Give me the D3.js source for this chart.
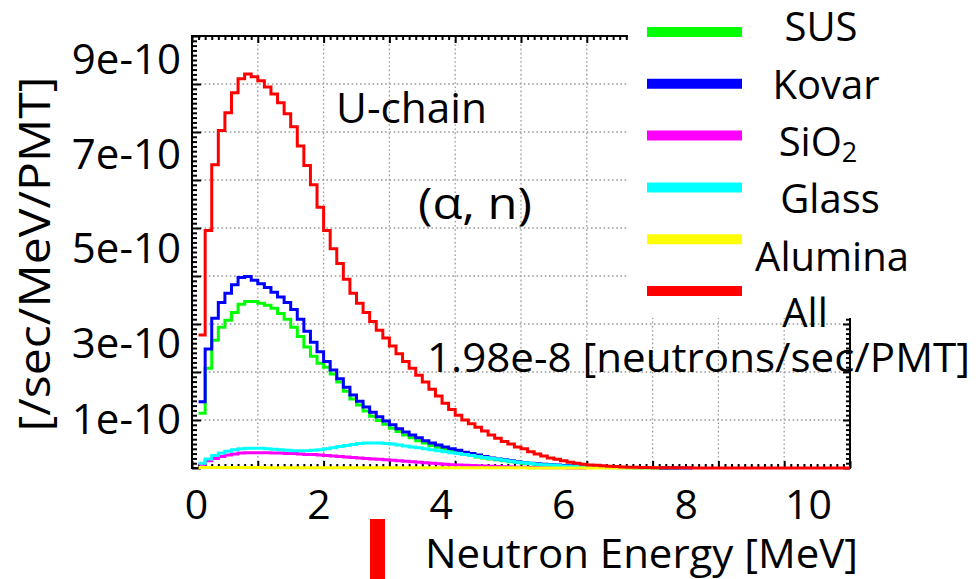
<!DOCTYPE html>
<html>
<head>
<meta charset="utf-8">
<script src="https://cdn.jsdelivr.net/npm/d3@7/dist/d3.min.js"></script>
<style>
  html, body { margin: 0; padding: 0; background: #fff; }
  svg { display: block; font-family: 'Open Sans', sans-serif; }
</style>
</head>
<body>
<svg id="chart" width="976" height="579"></svg>
<script>
// ---- Data (values in units of 1e-10 /sec/MeV/PMT, bins of 0.1 MeV starting at 0.1 MeV) ----
const binStart = 0.1;
const binWidth = 0.1;

const seriesNames = ["SUS", "Kovar", "SiO2", "Glass", "Alumina", "All"];
const seriesColors = ["#00ff00", "#0000ff", "#ff00ff", "#00ffff", "#ffff00", "#ff0000"];

const susValues = [
  1.14, 2.08, 2.66, 2.93, 3.08, 3.24, 3.41, 3.47, 3.47, 3.43,
  3.39, 3.33, 3.22, 3.10, 2.93, 2.74, 2.52, 2.33, 2.18, 2.10,
  1.96, 1.79, 1.60, 1.44, 1.31, 1.19, 1.08, 0.99, 0.91, 0.83,
  0.76, 0.69, 0.63, 0.57, 0.52, 0.47, 0.43, 0.39, 0.35, 0.32,
  0.29, 0.26, 0.23, 0.21, 0.19, 0.17, 0.15, 0.13, 0.115, 0.10,
  0.09, 0.08, 0.07, 0.06, 0.05, 0.045, 0.04, 0.035, 0.03, 0.025,
  0.02, 0.017, 0.014, 0.011, 0.009, 0.007, 0.005, 0.004, 0.003, 0.002,
  0.001, 0.001, 0
];
const kovarValues = [
  1.38, 2.48, 3.12, 3.45, 3.64, 3.82, 3.97, 3.99, 3.91, 3.84,
  3.76, 3.66, 3.56, 3.45, 3.30, 3.10, 2.85, 2.62, 2.42, 2.22,
  2.04, 1.86, 1.68, 1.52, 1.39, 1.27, 1.16, 1.07, 0.98, 0.90,
  0.82, 0.75, 0.69, 0.63, 0.57, 0.52, 0.48, 0.44, 0.40, 0.37,
  0.33, 0.30, 0.27, 0.24, 0.21, 0.19, 0.17, 0.15, 0.13, 0.115,
  0.10, 0.09, 0.08, 0.07, 0.06, 0.05, 0.045, 0.04, 0.035, 0.03,
  0.025, 0.02, 0.017, 0.014, 0.011, 0.009, 0.007, 0.005, 0.004, 0.003,
  0.002, 0.002, 0.001, 0.001, 0
];
const sio2Values = [
  0.08, 0.15, 0.20, 0.24, 0.27, 0.29, 0.31, 0.32, 0.32, 0.32,
  0.32, 0.31, 0.31, 0.30, 0.30, 0.29, 0.28, 0.28, 0.27, 0.26,
  0.25, 0.24, 0.23, 0.22, 0.21, 0.20, 0.19, 0.18, 0.17, 0.16,
  0.15, 0.14, 0.13, 0.12, 0.11, 0.10, 0.09, 0.08, 0.07, 0.06,
  0.055, 0.05, 0.045, 0.04, 0.035, 0.03, 0.025, 0.02, 0.017, 0.014,
  0.011, 0.009, 0.007, 0.005, 0.004, 0.003, 0.002, 0.001, 0
];
const glassValues = [
  0.10, 0.19, 0.26, 0.31, 0.35, 0.38, 0.40, 0.41, 0.41, 0.41,
  0.40, 0.39, 0.38, 0.37, 0.36, 0.36, 0.36, 0.37, 0.38, 0.40,
  0.42, 0.45, 0.47, 0.49, 0.51, 0.52, 0.52, 0.52, 0.51, 0.50,
  0.48, 0.46, 0.44, 0.42, 0.40, 0.38, 0.36, 0.34, 0.32, 0.30,
  0.28, 0.26, 0.24, 0.22, 0.20, 0.18, 0.16, 0.14, 0.12, 0.11,
  0.095, 0.08, 0.07, 0.06, 0.05, 0.04, 0.035, 0.03, 0.025, 0.02,
  0.015, 0.012, 0.009, 0.007, 0.005, 0.004, 0.003, 0.002, 0.001, 0
];
const aluminaValues = [
  0.008, 0.008, 0.008, 0.008, 0.008, 0.008, 0.008, 0.008, 0.008, 0.008,
  0.006, 0.006, 0.006, 0.006, 0.006, 0.006, 0.006, 0.006, 0.006, 0.006,
  0.006, 0.006, 0.006, 0.006, 0.006, 0.006, 0.006, 0.006, 0.006, 0.006,
  0.004, 0.004, 0.004, 0.004, 0.004, 0.004, 0.004, 0.004, 0.004, 0.004,
  0.004, 0.004, 0.004, 0.004, 0.004, 0.004, 0.004, 0.004, 0.004, 0.004,
  0.002, 0.002, 0.002, 0.002, 0.002, 0.002, 0.002, 0.002, 0.002, 0.002,
  0.001, 0.001, 0.001, 0.001, 0.001, 0.001, 0.001, 0.001, 0.001, 0
];
const allValues = [
  2.77, 4.95, 6.32, 7.03, 7.40, 7.82, 8.11, 8.21, 8.15, 8.07,
  7.94, 7.79, 7.61, 7.38, 7.11, 6.71, 6.30, 5.90, 5.43, 4.95,
  4.57, 4.26, 3.93, 3.64, 3.43, 3.24, 3.05, 2.87, 2.71, 2.54,
  2.38, 2.22, 2.08, 1.93, 1.79, 1.64, 1.50, 1.35, 1.22, 1.10,
  1.00, 0.92, 0.85, 0.77, 0.69, 0.62, 0.55, 0.50, 0.44, 0.40,
  0.34, 0.29, 0.25, 0.21, 0.18, 0.15, 0.12, 0.10, 0.08, 0.065,
  0.055, 0.045, 0.036, 0.029, 0.023, 0.018, 0.014, 0.011, 0.009, 0.007,
  0.006, 0.005, 0.004, 0.003, 0.003, 0.002, 0.002, 0.001, 0.001, 0.001,
  0, 0, 0, 0, 0, 0, 0, 0, 0, 0,
  0, 0, 0, 0, 0, 0, 0, 0, 0
];
const seriesValues = [susValues, kovarValues, sio2Values, glassValues, aluminaValues, allValues];

const xTickLabels = [0, 2, 4, 6, 8, 10];
const yTickLabels = [1, 3, 5, 7, 9];   // x 1e-10

// ---- Layout ----
const svg = d3.select("#chart");
const plot = { left: 192, right: 850, top: 36, bottom: 468 };

const x = d3.scaleLinear().domain([0, 10]).range([plot.left, plot.right]);
const y = d3.scaleLinear().domain([0, 9]).range([plot.bottom, plot.top]);

// label placement scales (labels in the picture are overlaid slightly off the frame grid)
const xLabelScale = d3.scaleLinear().domain([0, 10]).range([196, 808]);
const yLabelScale = d3.scaleLinear().domain([1, 3, 5, 7, 9]).range([418, 342, 247, 153, 58]);

svg.append("rect").attr("width", 976).attr("height", 579).attr("fill", "#fff");

// grid
const grid = svg.append("g").attr("stroke", "#9a9a9a").attr("stroke-width", 1.3)
  .attr("stroke-dasharray", "1.6,2.6").attr("fill", "none");
grid.selectAll("line.gx").data(d3.range(1, 10)).join("line")
  .attr("x1", d => x(d)).attr("x2", d => x(d)).attr("y1", plot.top).attr("y2", plot.bottom);
grid.selectAll("line.gy").data(d3.range(1, 9)).join("line")
  .attr("y1", d => y(d)).attr("y2", d => y(d)).attr("x1", plot.left).attr("x2", plot.right);

// axes ticks (inward)
const majorX = d3.range(0, 11);
const minorX = d3.range(0, 101).map(i => i / 10).filter(v => Math.abs(v - Math.round(v)) > 1e-6);
const majorY = d3.range(0, 10);
const minorY = d3.range(0, 91).map(i => i / 10).filter(v => Math.abs(v - Math.round(v)) > 1e-6);

function tickAxis(gen, t, vals, size) {
  const g = svg.append("g").attr("transform", t)
    .call(gen.tickValues(vals).tickSize(size).tickSizeOuter(0).tickFormat(""));
  g.select(".domain").remove();
  g.selectAll(".tick line").attr("stroke", "#000").attr("stroke-width", 2);
  return g;
}
tickAxis(d3.axisBottom(x), `translate(0,${plot.bottom})`, majorX, -7);
tickAxis(d3.axisBottom(x), `translate(0,${plot.bottom})`, minorX, -4);
tickAxis(d3.axisTop(x), `translate(0,${plot.top})`, majorX, -7);
tickAxis(d3.axisTop(x), `translate(0,${plot.top})`, minorX, -4);
tickAxis(d3.axisLeft(y), `translate(${plot.left},0)`, majorY, -9);
tickAxis(d3.axisLeft(y), `translate(${plot.left},0)`, minorY, -5);
tickAxis(d3.axisRight(y), `translate(${plot.right},0)`, majorY, -7);
tickAxis(d3.axisRight(y), `translate(${plot.right},0)`, minorY, -4);

// frame
svg.append("rect").attr("x", plot.left).attr("y", plot.top)
  .attr("width", plot.right - plot.left).attr("height", plot.bottom - plot.top)
  .attr("fill", "none").attr("stroke", "#000").attr("stroke-width", 2);

// histograms
svg.append("clipPath").attr("id", "clip").append("rect")
  .attr("x", plot.left).attr("y", plot.top - 2)
  .attr("width", plot.right - plot.left).attr("height", plot.bottom - plot.top + 4);

const line = d3.line().curve(d3.curveStepAfter).x(d => x(d[0])).y(d => y(d[1]));
const hg = svg.append("g").attr("clip-path", "url(#clip)");
seriesValues.forEach((vals, si) => {
  const pts = vals.map((v, i) => [binStart + i * binWidth, v]);
  pts.push([binStart + vals.length * binWidth, vals[vals.length - 1]]);
  hg.append("path").datum(pts).attr("d", line)
    .attr("fill", "none").attr("stroke", seriesColors[si])
    .attr("stroke-width", 3).attr("stroke-linejoin", "miter");
});

// legend box (white) covering top-right of the frame
svg.append("rect").attr("x", 628).attr("y", 0).attr("width", 348).attr("height", 318).attr("fill", "#fff");

const legendY = d3.scalePoint().domain(seriesNames).range([32, 291]);
svg.append("g").selectAll("line").data(seriesNames).join("line")
  .attr("x1", 647).attr("x2", 742)
  .attr("y1", d => legendY(d)).attr("y2", d => legendY(d))
  .attr("stroke", (d, i) => seriesColors[i]).attr("stroke-width", 10);

const legendTextPos = {
  "SUS":     { cx: 821, by: 41 },
  "Kovar":   { cx: 826, by: 99 },
  "SiO2":    { cx: 818, by: 156 },
  "Glass":   { cx: 830, by: 213 },
  "Alumina": { cx: 832, by: 271 },
  "All":     { cx: 805, by: 327 }
};
const lt = svg.append("g").attr("font-size", 40).attr("fill", "#000").attr("text-anchor", "middle");
seriesNames.forEach(n => {
  const p = legendTextPos[n];
  const t = lt.append("text").attr("x", p.cx).attr("y", p.by);
  if (n === "SiO2") {
    t.append("tspan").text("SiO");
    t.append("tspan").attr("font-size", 27).attr("dy", 6).text("2");
  } else {
    t.text(n);
  }
});

// tick labels
const xl = svg.append("g").attr("transform", "translate(0,519)")
  .call(d3.axisBottom(xLabelScale).tickValues(xTickLabels).tickSize(0).tickFormat(d => String(d)));
xl.select(".domain").remove();
xl.selectAll("text").attr("y", 0).attr("dy", 0).attr("font-size", 41)
  .attr("font-family", "'Open Sans', sans-serif").attr("fill", "#000");

const yl = svg.append("g").attr("transform", "translate(181,0)")
  .call(d3.axisLeft(yLabelScale).tickValues(yTickLabels).tickSize(0).tickFormat(d => d + "e-10"));
yl.select(".domain").remove();
yl.selectAll("text").attr("x", 0).attr("dy", "0.357em").attr("font-size", 42)
  .attr("font-family", "'Open Sans', sans-serif").attr("fill", "#000");

// titles and annotations
svg.append("text").attr("transform", "translate(50,254) rotate(-90)")
  .attr("text-anchor", "middle").attr("font-size", 44)
  .attr("textLength", 355).attr("lengthAdjust", "spacingAndGlyphs").text("[/sec/MeV/PMT]");

svg.append("text").attr("x", 425).attr("y", 568).attr("font-size", 40)
  .attr("textLength", 433).attr("lengthAdjust", "spacingAndGlyphs").text("Neutron Energy [MeV]");

svg.append("text").attr("x", 336).attr("y", 123).attr("font-size", 42)
  .attr("textLength", 151).attr("lengthAdjust", "spacingAndGlyphs").text("U-chain");
svg.append("text").attr("x", 418).attr("y", 219).attr("font-size", 44)
  .attr("textLength", 114).attr("lengthAdjust", "spacingAndGlyphs").text("(\u03b1, n)");
svg.append("text").attr("x", 427).attr("y", 372).attr("font-size", 40)
  .attr("textLength", 543).attr("lengthAdjust", "spacingAndGlyphs").text("1.98e-8 [neutrons/sec/PMT]");

// stray red marker below axis
svg.append("rect").attr("x", 370).attr("y", 519).attr("width", 15).attr("height", 60).attr("fill", "#ff0000");
</script>
</body>
</html>
